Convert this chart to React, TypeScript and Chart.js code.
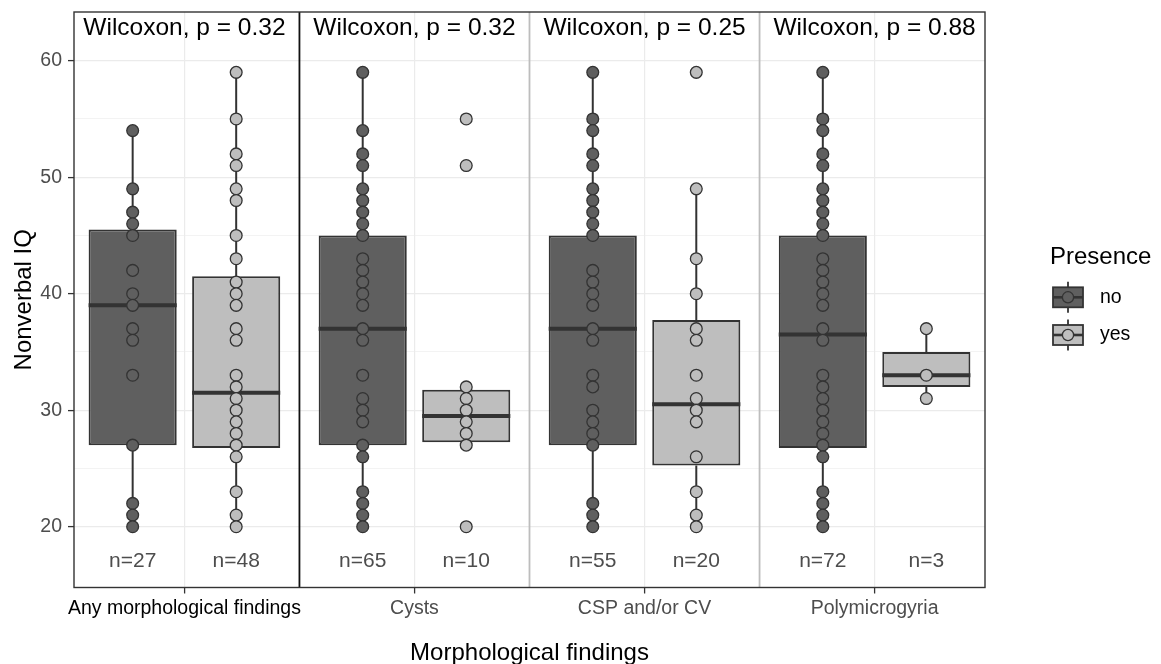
import React, { useEffect, useRef } from 'react';
import { Chart, registerables } from 'chart.js';

Chart.register(...registerables);

// ---------- data ----------
const CATEGORIES = ['Any morphological findings', 'Cysts', 'CSP and/or CV', 'Polymicrogyria'];
const GROUPS = ['no', 'yes'];
const P_VALUES = ['0.32', '0.32', '0.25', '0.88'];
const N_NO = [27, 65, 55, 72];
const N_YES = [48, 10, 20, 3];

const NO_POINTS = [
  [54, 49, 47, 46, 45, 42, 40, 39, 37, 36, 33, 27, 22, 21, 20],
  [59, 54, 52, 51, 49, 48, 47, 46, 45, 43, 42, 41, 40, 39, 37, 36, 33, 31, 30, 29, 27, 26, 23, 22, 21, 20],
  [59, 55, 54, 52, 51, 49, 48, 47, 46, 45, 42, 41, 40, 39, 37, 36, 33, 32, 30, 29, 28, 27, 22, 21, 20],
  [59, 55, 54, 52, 51, 49, 48, 47, 46, 45, 43, 42, 41, 40, 39, 37, 36, 33, 32, 31, 30, 29, 28, 27, 26, 23, 22, 21, 20],
];
const YES_POINTS = [
  [59, 55, 52, 51, 49, 48, 45, 43, 41, 40, 39, 37, 36, 33, 32, 31, 30, 29, 28, 27, 26, 23, 21, 20],
  [55, 51, 32, 31, 30, 29, 28, 27, 20],
  [59, 49, 43, 40, 37, 36, 33, 31, 30, 29, 26, 23, 21, 20],
  [37, 33, 31],
];

const NO_LOW = [20, 20, 20, 20];
const NO_Q1 = [27, 27, 27, 26.75];
const NO_MEDIAN = [39, 37, 37, 36.5];
const NO_Q3 = [45.5, 45, 45, 45];
const NO_HIGH = [54, 59, 59, 59];

const YES_LOW = [20, 27, 20, 31];
const YES_Q1 = [26.75, 27.25, 25.25, 32];
const YES_MEDIAN = [31.5, 29.5, 30.5, 33];
const YES_Q3 = [41.5, 31.75, 37.75, 35];
const YES_HIGH = [59, 32, 49, 37];

const Y_TICKS = [20, 30, 40, 50, 60];
const Y_MINOR_TICKS = [25, 35, 45, 55];

// ---------- layout / style ----------
const X_MIN = 0.52;
const X_MAX = 4.48;
const Y_MIN = 14.78;
const Y_MAX = 64.18;
const DODGE = 0.225;
const BOX_WIDTH = 0.383;
const WILCOX_Y = 62.75;
const N_LABEL_Y = 17;
const FONT = "'Liberation Sans', Arial, Helvetica, sans-serif";
const DARK = '#333333';

const GROUP_DEFS = [
  { name: GROUPS[0], offset: -DODGE, fill: '#5f5f5f', low: NO_LOW, q1: NO_Q1, med: NO_MEDIAN, q3: NO_Q3, high: NO_HIGH, pts: NO_POINTS, n: N_NO },
  { name: GROUPS[1], offset: DODGE, fill: '#bebebe', low: YES_LOW, q1: YES_Q1, med: YES_MEDIAN, q3: YES_Q3, high: YES_HIGH, pts: YES_POINTS, n: N_YES },
];

function buildDatasets() {
  const boxData: any[] = [];
  const boxColors: string[] = [];
  const whiskers: any[] = [];
  const medians: any[] = [];
  CATEGORIES.forEach((_, i) => {
    GROUP_DEFS.forEach((g) => {
      const x = i + 1 + g.offset;
      boxData.push({ x, y: [g.q1[i], g.q3[i]] });
      boxColors.push(g.fill);
      whiskers.push({ x, y: g.low[i] }, { x, y: g.q1[i] }, { x, y: null });
      whiskers.push({ x, y: g.q3[i] }, { x, y: g.high[i] }, { x, y: null });
      medians.push({ x: x - BOX_WIDTH / 2, y: g.med[i] }, { x: x + BOX_WIDTH / 2, y: g.med[i] }, { x, y: null });
    });
  });
  const pointSets = GROUP_DEFS.map((g) => ({
    type: 'scatter',
    label: g.name,
    data: CATEGORIES.flatMap((_, i) => g.pts[i].map((v) => ({ x: i + 1 + g.offset, y: v }))),
    backgroundColor: g.fill,
    borderColor: DARK,
    borderWidth: 1.3,
    pointRadius: 5.9,
    order: 1,
  }));
  return [
    {
      type: 'line',
      label: 'whiskers',
      data: whiskers,
      borderColor: DARK,
      borderWidth: 2,
      pointRadius: 0,
      spanGaps: false,
      order: 4,
    },
    {
      type: 'bar',
      label: 'boxes',
      data: boxData,
      backgroundColor: boxColors,
      borderColor: DARK,
      borderWidth: 2,
      borderSkipped: false,
      categoryPercentage: 1,
      barPercentage: BOX_WIDTH / (2 * DODGE),
      order: 3,
    },
    {
      type: 'line',
      label: 'medians',
      data: medians,
      borderColor: DARK,
      borderWidth: 4,
      borderCapStyle: 'butt',
      pointRadius: 0,
      spanGaps: false,
      order: 2,
    },
    ...pointSets,
  ];
}

const SEPARATORS = [1.5, 2.5, 3.5];

const annotatePlugin = {
  id: 'annotate',
  beforeDatasetsDraw(chart: any) {
    const { ctx, chartArea: a, scales } = chart;
    ctx.save();
    SEPARATORS.forEach((s, i) => {
      const px = scales.x.getPixelForValue(s);
      ctx.strokeStyle = i === 0 ? '#111111' : '#bdbdbd';
      ctx.lineWidth = 1.8;
      ctx.beginPath();
      ctx.moveTo(px, a.top);
      ctx.lineTo(px, a.bottom);
      ctx.stroke();
    });
    ctx.restore();
  },
  afterDatasetsDraw(chart: any) {
    const { ctx, scales } = chart;
    ctx.save();
    ctx.textAlign = 'center';
    ctx.textBaseline = 'middle';
    ctx.fillStyle = '#000000';
    ctx.font = `24.5px ${FONT}`;
    CATEGORIES.forEach((_, i) => {
      ctx.fillText(`Wilcoxon, p = ${P_VALUES[i]}`, scales.x.getPixelForValue(i + 1), scales.y.getPixelForValue(WILCOX_Y));
    });
    ctx.fillStyle = '#4d4d4d';
    ctx.font = `21px ${FONT}`;
    CATEGORIES.forEach((_, i) => {
      GROUP_DEFS.forEach((g) => {
        ctx.fillText(`n=${g.n[i]}`, scales.x.getPixelForValue(i + 1 + g.offset), scales.y.getPixelForValue(N_LABEL_Y));
      });
    });
    ctx.restore();
  },
  afterDraw(chart: any) {
    const { ctx, chartArea: a } = chart;
    ctx.save();
    // panel border
    ctx.strokeStyle = DARK;
    ctx.lineWidth = 1.4;
    ctx.strokeRect(a.left, a.top, a.right - a.left, a.bottom - a.top);

    // axis titles
    ctx.fillStyle = '#000000';
    ctx.font = `24px ${FONT}`;
    ctx.textAlign = 'center';
    ctx.textBaseline = 'alphabetic';
    ctx.fillText('Morphological findings', (a.left + a.right) / 2, 660);
    ctx.save();
    ctx.translate(31, (a.top + a.bottom) / 2);
    ctx.rotate(-Math.PI / 2);
    ctx.fillText('Nonverbal IQ', 0, 0);
    ctx.restore();

    // legend
    ctx.textAlign = 'left';
    ctx.fillText('Presence', 1050, 264);
    GROUP_DEFS.forEach((g, k) => {
      const cx = 1068;
      const cy = 297.3 + k * 37.7;
      ctx.strokeStyle = DARK;
      ctx.lineWidth = 1.8;
      ctx.beginPath();
      ctx.moveTo(cx, cy - 15.5);
      ctx.lineTo(cx, cy + 15.5);
      ctx.stroke();
      ctx.fillStyle = g.fill;
      ctx.fillRect(cx - 15, cy - 10, 30, 20);
      ctx.strokeRect(cx - 15, cy - 10, 30, 20);
      ctx.lineWidth = 2.6;
      ctx.beginPath();
      ctx.moveTo(cx - 15, cy);
      ctx.lineTo(cx + 15, cy);
      ctx.stroke();
      ctx.beginPath();
      ctx.arc(cx, cy, 5.6, 0, Math.PI * 2);
      ctx.fillStyle = g.fill;
      ctx.fill();
      ctx.lineWidth = 1.3;
      ctx.stroke();
      ctx.fillStyle = '#000000';
      ctx.font = `19.5px ${FONT}`;
      ctx.textBaseline = 'middle';
      ctx.fillText(g.name, 1100, cy);
    });
    ctx.restore();
  },
};

export default function App() {
  const ref = useRef<HTMLCanvasElement>(null);
  useEffect(() => {
    const canvas = ref.current;
    if (!canvas) return;
    const chart = new Chart(canvas, {
      type: 'bar',
      data: { datasets: buildDatasets() as any },
      options: {
        animation: false,
        responsive: true,
        maintainAspectRatio: false,
        events: [],
        layout: { padding: { left: 0, right: 176, top: 12, bottom: 0 } },
        plugins: {
          legend: { display: false },
          tooltip: { enabled: false },
          title: { display: false },
        },
        scales: {
          x: {
            type: 'linear',
            min: X_MIN,
            max: X_MAX,
            offset: false,
            afterBuildTicks: (scale: any) => {
              scale.ticks = CATEGORIES.map((_, i) => ({ value: i + 1 }));
            },
            afterFit: (scale: any) => {
              scale.height = 76.5;
              scale.paddingLeft = 0;
              scale.paddingRight = 0;
              scale.paddingTop = 0;
              scale.paddingBottom = 0;
            },
            ticks: {
              autoSkip: false,
              maxRotation: 0,
              padding: 3,
              font: { size: 19.5, family: FONT },
              color: (c: any) => (c.index === 0 ? '#000000' : '#4d4d4d'),
              callback: (v: any) => CATEGORIES[Math.round(Number(v)) - 1] ?? '',
            },
            grid: {
              color: '#ebebeb',
              lineWidth: 1.2,
              tickColor: DARK,
              tickLength: 6,
              tickWidth: 1.3,
              offset: false,
            },
            border: { display: false },
          },
          y: {
            type: 'linear',
            min: Y_MIN,
            max: Y_MAX,
            afterBuildTicks: (scale: any) => {
              scale.ticks = [...Y_TICKS, ...Y_MINOR_TICKS].sort((p, q) => p - q).map((v) => ({ value: v }));
            },
            afterFit: (scale: any) => {
              scale.width = 74;
              scale.paddingLeft = 0;
              scale.paddingRight = 0;
              scale.paddingTop = 0;
              scale.paddingBottom = 0;
            },
            ticks: {
              padding: 6,
              font: { size: 19.5, family: FONT },
              color: '#4d4d4d',
              callback: (v: any) => (Y_TICKS.includes(Number(v)) ? String(v) : ''),
            },
            grid: {
              color: '#ebebeb',
              lineWidth: (c: any) => (c.tick && Y_TICKS.includes(c.tick.value) ? 1.2 : 0.6),
              tickColor: (c: any) => (c.tick && Y_TICKS.includes(c.tick.value) ? DARK : 'rgba(0,0,0,0)'),
              tickLength: 6,
              tickWidth: 1.3,
            },
            border: { display: false },
          },
        },
      },
      plugins: [annotatePlugin],
    } as any);
    return () => chart.destroy();
  }, []);
  return (
    <div style={{ position: 'absolute', left: 0, top: 0, width: 1161, height: 664, background: '#ffffff' }}>
      <canvas ref={ref} />
    </div>
  );
}
